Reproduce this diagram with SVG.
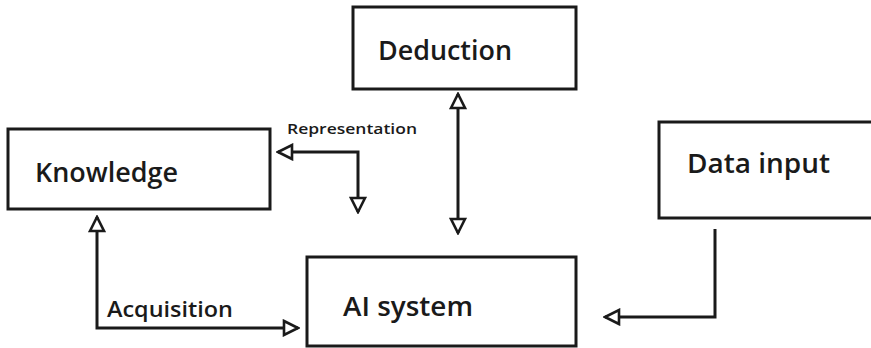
<svg xmlns="http://www.w3.org/2000/svg" width="871" height="348" viewBox="0 0 871 348">
  <style>
    .box { fill: #fff; stroke: #1a1a1a; stroke-width: 3; }
    .label { font-family: "Open Sans", "DejaVu Sans", sans-serif; fill: #1a1a1a; font-size: 27px; font-weight: 600; }
    .small { font-family: "Open Sans", "DejaVu Sans", sans-serif; fill: #1a1a1a; font-weight: 600; }
    .wire { fill: none; stroke: #1a1a1a; stroke-width: 3; }
  </style>
  <defs>
    <marker id="open" viewBox="0 0 18 18" refX="16" refY="9" markerWidth="18" markerHeight="18" markerUnits="userSpaceOnUse" orient="auto-start-reverse">
      <path d="M2,2 L16,9 L2,16 Z" fill="#fff" stroke="#1a1a1a" stroke-width="2.6" stroke-linejoin="miter"/>
    </marker>
  </defs>
  <rect width="871" height="348" fill="#fff"/>

  <g id="deduction">
    <rect class="box" x="353" y="7" width="223" height="82"/>
    <text class="label" x="378" y="60" textLength="134" lengthAdjust="spacingAndGlyphs">Deduction</text>
  </g>

  <g id="knowledge">
    <rect class="box" x="8" y="129" width="262" height="80"/>
    <text class="label" x="35" y="182" textLength="143" lengthAdjust="spacingAndGlyphs">Knowledge</text>
  </g>

  <g id="data-input">
    <rect class="box" x="659" y="122" width="222" height="96"/>
    <text class="label" x="687" y="173" textLength="143" lengthAdjust="spacingAndGlyphs">Data input</text>
  </g>

  <g id="ai-system">
    <rect class="box" x="307" y="257" width="269" height="89"/>
    <text class="label" x="343" y="316" textLength="130" lengthAdjust="spacingAndGlyphs">AI system</text>
  </g>

  <g id="connectors">
    <!-- Representation: Knowledge <-> AI system -->
    <path class="wire" d="M278,152 H358 V212" marker-start="url(#open)" marker-end="url(#open)"/>
    <text class="small" x="287" y="134" font-size="15" textLength="130" lengthAdjust="spacingAndGlyphs">Representation</text>
    <!-- Deduction <-> AI system -->
    <path class="wire" d="M458,94 V233" marker-start="url(#open)" marker-end="url(#open)"/>
    <!-- Acquisition: Knowledge <-> AI system -->
    <path class="wire" d="M97,217 V328 H298" marker-start="url(#open)" marker-end="url(#open)"/>
    <text class="small" x="107" y="317" font-size="21" textLength="126" lengthAdjust="spacingAndGlyphs">Acquisition</text>
    <!-- Data input -> AI system -->
    <path class="wire" d="M715,229 V317 H605" marker-end="url(#open)"/>
  </g>
</svg>
